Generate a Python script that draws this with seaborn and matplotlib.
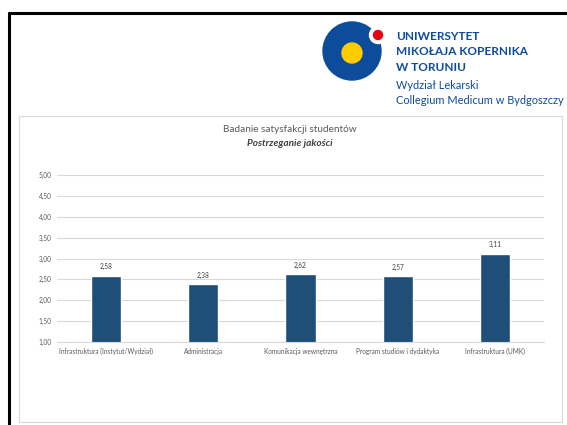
import numpy as np
import pandas as pd
import matplotlib
matplotlib.use('Agg')
import matplotlib.pyplot as plt
import seaborn as sns
from matplotlib.patches import Circle, Rectangle

# Data
categories = ['Infrastruktura (Instytut/Wydział)', 'Administracja',
              'Komunikacja wewnętrzna', 'Program studiów i dydaktyka',
              'Infrastruktura (UMK)']
scores = [2.58, 2.38, 2.62, 2.57, 3.11]
y_ticks = [1.0, 1.5, 2.0, 2.5, 3.0, 3.5, 4.0, 4.5, 5.0]

title_line1 = 'Badanie satysfakcji studentów'
title_line2 = 'Postrzeganie jakości'
logo_bold = ['UNIWERSYTET', 'MIKOŁAJA KOPERNIKA', 'W TORUNIU']
logo_regular = ['Wydział Lekarski', 'Collegium Medicum w Bydgoszczy']

sns.set_theme(style='white')
plt.rcParams['font.family'] = ['Lato', 'DejaVu Sans']

W, H = 567, 425
fig = plt.figure(figsize=(W / 100, H / 100), dpi=100)
fig.patch.set_facecolor('white')

# background axes in pixel coordinates for the slide decorations
bg = fig.add_axes([0, 0, 1, 1])
bg.set_xlim(0, W)
bg.set_ylim(H, 0)
bg.axis('off')

# black slide frame
bg.plot([9, 9], [12, H], color='black', lw=2.2, solid_capstyle='butt')
bg.plot([8, W], [12.5, 12.5], color='black', lw=2.2, solid_capstyle='butt')

# chart box
bg.add_patch(Rectangle((19, 116), 543, 306, facecolor='white',
                       edgecolor='#d9d9d9', lw=0.8))

# logo
umk_blue = '#0d4b9b'
bg.add_patch(Circle((352, 51), 29, color=umk_blue))
bg.add_patch(Circle((352, 53), 10, color='#ffcc00'))
bg.add_patch(Circle((378, 35), 8.5, color='white'))
bg.add_patch(Circle((378, 35), 4.5, color='#e30613'))
for t, y in zip(logo_bold, [36, 51.5, 67]):
    bg.text(396, y, t, fontsize=8.5, fontweight='bold',
            color=umk_blue, va='center', ha='left')
for t, y in zip(logo_regular, [85, 100]):
    bg.text(396, y, t, fontsize=7.95, color=umk_blue,
            va='center', ha='left')

# chart titles
bg.text(290, 129, title_line1, fontsize=7.2, color='#595959', ha='center', va='center')
bg.text(290, 143, title_line2, fontsize=7.2, color='#404040', ha='center',
        va='center', fontweight='bold', fontstyle='italic')

# chart axes
left, right = 57, 544
top, bottom = 175, 342
ax = fig.add_axes([left / W, (H - bottom) / H, (right - left) / W, (bottom - top) / H])
ax.set_facecolor('none')

df = pd.DataFrame({'kategoria': categories, 'wynik': scores})
sns.barplot(data=df, x='kategoria', y='wynik', color='#1f4e79',
            saturation=1, width=0.31, ax=ax)

ax.set_ylim(1, 5)
ax.set_yticks(y_ticks)
ax.set_yticklabels([f'{v:.2f}'.replace('.', ',') for v in y_ticks])
ax.yaxis.grid(True, color='#d9d9d9', lw=0.8)
ax.set_axisbelow(True)
for s in ['top', 'right', 'left']:
    ax.spines[s].set_visible(False)
ax.spines['bottom'].set_color('#d9d9d9')
ax.spines['bottom'].set_linewidth(0.8)
ax.tick_params(axis='both', length=0, labelsize=4.7, labelcolor='#595959', pad=4)
ax.set_xlabel('')
ax.set_ylabel('')

for cont in ax.containers:
    ax.bar_label(cont, labels=[f'{v:.2f}'.replace('.', ',') for v in scores],
                 padding=4, fontsize=4.7, color='#404040')

fig.savefig('out.png', dpi=100)
